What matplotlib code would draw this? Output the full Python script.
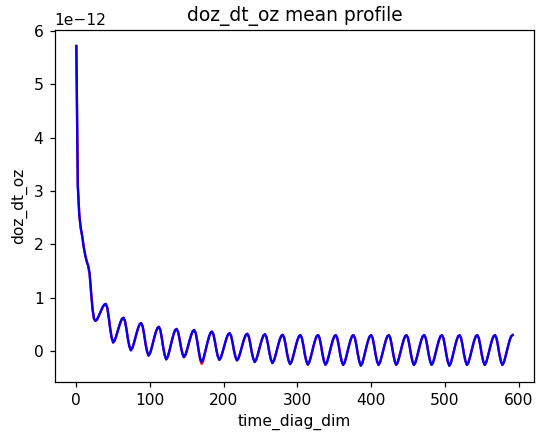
import numpy as np
import matplotlib
matplotlib.use("Agg")
import matplotlib.pyplot as plt

# time steps (every 2nd step of time_diag_dim), one row per 24 steps
time_diag_dim = np.arange(0, 594, 2)

doz_blue = [
    5.72, 3.1, 2.55, 2.3, 2.15, 1.95, 1.8, 1.68, 1.6, 1.45, 1.1, 0.78,
    0.6, 0.56, 0.586, 0.64, 0.704, 0.768, 0.826, 0.867, 0.88, 0.808, 0.626, 0.409,
    0.242, 0.155, 0.192, 0.271, 0.364, 0.457, 0.541, 0.601, 0.62, 0.559, 0.407, 0.223,
    0.083, 0.01, 0.051, 0.138, 0.24, 0.342, 0.433, 0.5, 0.52, 0.459, 0.307, 0.124,
    -0.017, -0.09, -0.047, 0.045, 0.153, 0.261, 0.358, 0.428, 0.45, 0.389, 0.237, 0.054,
    -0.087, -0.16, -0.114, -0.017, 0.097, 0.211, 0.313, 0.387, 0.41, 0.357, 0.225, 0.066,
    -0.056, -0.12, -0.079, 0.008, 0.11, 0.212, 0.303, 0.37, 0.39, 0.33, 0.18, 0.0,
    -0.138, -0.21, -0.164, -0.067, 0.047, 0.161, 0.263, 0.337, 0.36, 0.307, 0.175, 0.016,
    -0.106, -0.17, -0.13, -0.045, 0.055, 0.155, 0.245, 0.31, 0.33, 0.279, 0.152, -0.002,
    -0.119, -0.18, -0.14, -0.055, 0.045, 0.145, 0.235, 0.3, 0.32, 0.267, 0.134, -0.025,
    -0.146, -0.21, -0.168, -0.08, 0.024, 0.128, 0.222, 0.289, 0.31, 0.256, 0.121, -0.041,
    -0.165, -0.23, -0.188, -0.098, 0.009, 0.115, 0.21, 0.279, 0.3, 0.245, 0.108, -0.058,
    -0.184, -0.25, -0.206, -0.114, -0.005, 0.104, 0.202, 0.273, 0.295, 0.24, 0.101, -0.066,
    -0.193, -0.26, -0.216, -0.121, -0.01, 0.101, 0.201, 0.273, 0.295, 0.24, 0.101, -0.066,
    -0.195, -0.262, -0.218, -0.122, -0.011, 0.1, 0.2, 0.272, 0.294, 0.239, 0.1, -0.067,
    -0.196, -0.265, -0.22, -0.123, -0.012, 0.1, 0.201, 0.273, 0.295, 0.24, 0.1, -0.068,
    -0.205, -0.278, -0.232, -0.13, -0.015, 0.099, 0.2, 0.272, 0.294, 0.239, 0.1, -0.067,
    -0.196, -0.264, -0.219, -0.122, -0.011, 0.1, 0.201, 0.273, 0.295, 0.24, 0.101, -0.066,
    -0.195, -0.263, -0.218, -0.122, -0.011, 0.1, 0.2, 0.272, 0.294, 0.239, 0.1, -0.067,
    -0.197, -0.266, -0.221, -0.124, -0.012, 0.1, 0.201, 0.273, 0.295, 0.24, 0.101, -0.066,
    -0.196, -0.265, -0.22, -0.123, -0.012, 0.1, 0.201, 0.273, 0.295, 0.24, 0.1, -0.068,
    -0.205, -0.28, -0.233, -0.131, -0.016, 0.098, 0.2, 0.272, 0.294, 0.239, 0.1, -0.067,
    -0.196, -0.265, -0.22, -0.123, -0.012, 0.1, 0.201, 0.273, 0.295, 0.24, 0.101, -0.066,
    -0.195, -0.264, -0.219, -0.122, -0.011, 0.1, 0.201, 0.273, 0.295, 0.24, 0.1, -0.067,
    -0.196, -0.265, -0.22, -0.122, -0.011, 0.101, 0.202, 0.274, 0.296,
]

# second series, drawn underneath; dips a bit lower around step 170
doz_red = list(doz_blue)
doz_red[84] = -0.17
doz_red[85] = -0.245
doz_red[86] = -0.195

scale = 1e-12
y_blue = np.array(doz_blue) * scale
y_red = np.array(doz_red) * scale

dpi = 112
fig = plt.figure(figsize=(536 / dpi, 439 / dpi), dpi=dpi)
ax = fig.add_axes([0.1017, 0.1305, 0.8955, 0.8012])
ax.plot(time_diag_dim, y_red, color='red', linewidth=1.5)
ax.plot(time_diag_dim, y_blue, color='blue', linewidth=1.5)
ax.set_title('doz_dt_oz mean profile')
ax.set_xlabel('time_diag_dim')
ax.set_ylabel('doz_dt_oz')
fig.savefig('out.png', dpi=dpi)
